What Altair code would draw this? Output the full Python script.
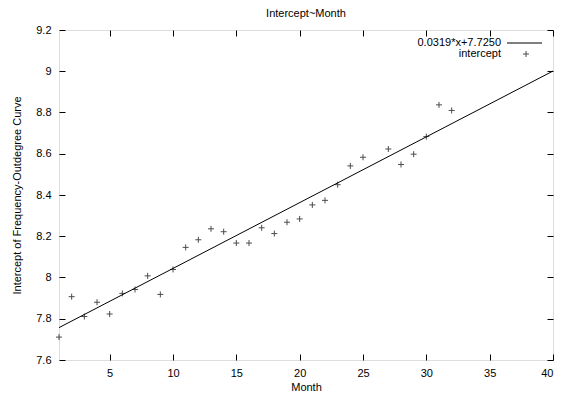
import altair as alt
import pandas as pd

months = [1, 2, 3, 4, 5, 6, 7, 8, 9, 10, 11, 12, 13, 14, 15, 16, 17, 18, 19, 20,
          21, 22, 23, 24, 25, 27, 28, 29, 30, 31, 32]
intercepts = [7.711, 7.907, 7.811, 7.880, 7.823, 7.923, 7.942, 8.008, 7.918, 8.039,
              8.146, 8.183, 8.236, 8.222, 8.167, 8.167, 8.241, 8.213, 8.268, 8.284,
              8.352, 8.374, 8.450, 8.541, 8.583, 8.623, 8.548, 8.598, 8.683, 8.837, 8.810]
fit_x = [1, 40]
fit_y = [7.7569, 9.0010]
x_ticks = [5, 10, 15, 20, 25, 30, 35, 40]
y_ticks = [7.6, 7.8, 8.0, 8.2, 8.4, 8.6, 8.8, 9.0, 9.2]
fit_label = "0.0319*x+7.7250"
pts_label = "intercept"

FONT = "Liberation Sans"
PLUS = "M-1,0L1,0M0,-1L0,1"

pts = pd.DataFrame({"Month": months, "Intercept": intercepts})
fit = pd.DataFrame({"Month": fit_x, "Intercept": fit_y})
one = pd.DataFrame({"k": [0]})

W, H = 494, 330

xscale = alt.Scale(domain=[1, 40], nice=False, zero=False)
yscale = alt.Scale(domain=[7.6, 9.2], nice=False, zero=False)

common_axis = dict(domain=False, grid=False, tickSize=6, offset=-6, tickColor="black",
                   tickWidth=1, labelFont=FONT, labelFontSize=11, labelColor="black",
                   titleFont=FONT, titleFontSize=11, titleFontWeight="normal", titleColor="black")

line = alt.Chart(fit).mark_line(color="black", strokeWidth=1).encode(
    x=alt.X("Month:Q", scale=xscale,
            axis=alt.Axis(orient="bottom", values=x_ticks, title="Month", labelPadding=7,
                          titlePadding=3, **common_axis)),
    y=alt.Y("Intercept:Q", scale=yscale,
            axis=alt.Axis(orient="left", values=y_ticks, format=".1~f",
                          title="Intercept of Frequency-Outdegree Curve", labelPadding=8,
                          titlePadding=13, **common_axis)),
)

points = alt.Chart(pts).mark_point(shape=PLUS, size=36, color="black", strokeWidth=1,
                                   filled=False).encode(
    x=alt.X("Month:Q", scale=xscale,
            axis=alt.Axis(orient="top", values=x_ticks, labels=False, title=None, **common_axis)),
    y=alt.Y("Intercept:Q", scale=yscale,
            axis=alt.Axis(orient="right", values=y_ticks, labels=False, title=None, **common_axis)),
)

LX = W - 52
leg_text1 = alt.Chart(one).mark_text(align="right", baseline="middle", font=FONT,
                                     fontSize=11, color="black").encode(
    x=alt.value(LX), y=alt.value(13), text=alt.value(fit_label))
leg_text2 = alt.Chart(one).mark_text(align="right", baseline="middle", font=FONT,
                                     fontSize=11, color="black").encode(
    x=alt.value(LX), y=alt.value(24), text=alt.value(pts_label))
leg_rule = alt.Chart(one).mark_rule(color="black", strokeWidth=1).encode(
    x=alt.value(LX + 6), x2=alt.value(LX + 41), y=alt.value(13))
leg_pt = alt.Chart(one).mark_point(shape=PLUS, size=36, color="black", strokeWidth=1,
                                   filled=False).encode(
    x=alt.value(LX + 25), y=alt.value(24))

chart = alt.layer(line, points, leg_text1, leg_text2, leg_rule, leg_pt).resolve_axis(
    x="independent", y="independent"
).properties(
    width=W, height=H,
    title=alt.Title("Intercept~Month", font=FONT, fontSize=11, fontWeight="normal",
                    color="black", offset=5),
    autosize=alt.AutoSizeParams(type="none"),
    padding={"left": 51, "top": 22, "right": 1, "bottom": 33},
).configure_view(stroke="black", strokeWidth=1).configure(background="white")

chart.save("out.html", embed_options={"renderer": "svg", "actions": False})
